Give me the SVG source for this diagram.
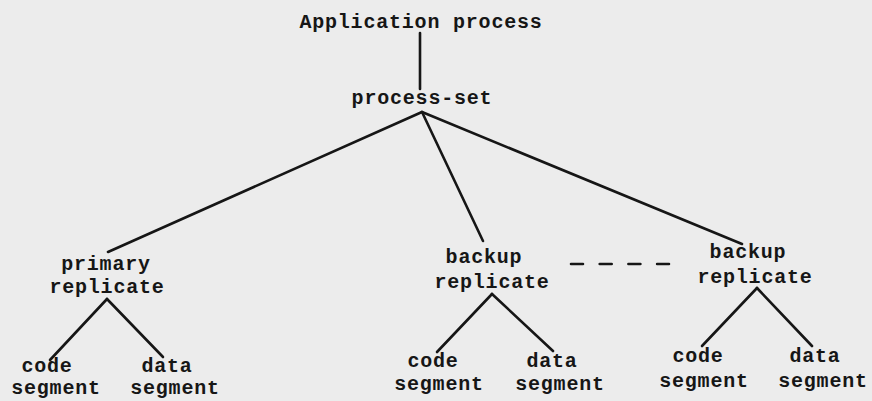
<svg xmlns="http://www.w3.org/2000/svg" width="872" height="401" viewBox="0 0 872 401">
<style>
text{font-family:"Liberation Mono","DejaVu Sans Mono",monospace;font-weight:bold;font-size:20px;letter-spacing:0.8px;fill:#161616;text-anchor:middle}
.c{stroke:#161616;stroke-width:2.6;fill:none;stroke-linecap:round}
</style>
<rect width="872" height="401" fill="#ececec"/>
<g id="connectors">
<line class="c" x1="420" y1="33" x2="420" y2="89"/>
<line class="c" x1="422" y1="112" x2="108" y2="252"/>
<line class="c" x1="422" y1="112" x2="483" y2="241"/>
<line class="c" x1="422" y1="112" x2="742" y2="244"/>
<line class="c" x1="107" y1="299" x2="50" y2="360"/>
<line class="c" x1="107" y1="299" x2="163" y2="357"/>
<line class="c" x1="492" y1="294" x2="437" y2="352"/>
<line class="c" x1="492" y1="294" x2="553" y2="351"/>
<line class="c" x1="757" y1="288" x2="702" y2="346"/>
<line class="c" x1="757" y1="288" x2="812" y2="346"/>
<line class="c" x1="571" y1="264" x2="669" y2="264" stroke-width="3" stroke-dasharray="12 16.7" stroke-linecap="butt"/>
</g>
<g id="application-process"><text x="421" y="28">Application process</text></g>
<g id="process-set"><text x="422" y="104">process-set</text></g>
<g id="primary-replicate"><text x="106" y="270">primary</text><text x="107" y="293">replicate</text></g>
<g id="primary-code"><text x="47" y="372">code</text><text x="56" y="394">segment</text></g>
<g id="primary-data"><text x="167" y="372">data</text><text x="175" y="394">segment</text></g>
<g id="backup-replicate-1"><text x="484" y="263">backup</text><text x="492" y="288">replicate</text></g>
<g id="backup1-code"><text x="433" y="367">code</text><text x="439" y="390">segment</text></g>
<g id="backup1-data"><text x="552" y="367">data</text><text x="560" y="390">segment</text></g>
<g id="backup-replicate-2"><text x="748" y="258">backup</text><text x="755" y="283">replicate</text></g>
<g id="backup2-code"><text x="698" y="362">code</text><text x="704" y="387">segment</text></g>
<g id="backup2-data"><text x="815" y="362">data</text><text x="823" y="387">segment</text></g>
</svg>
